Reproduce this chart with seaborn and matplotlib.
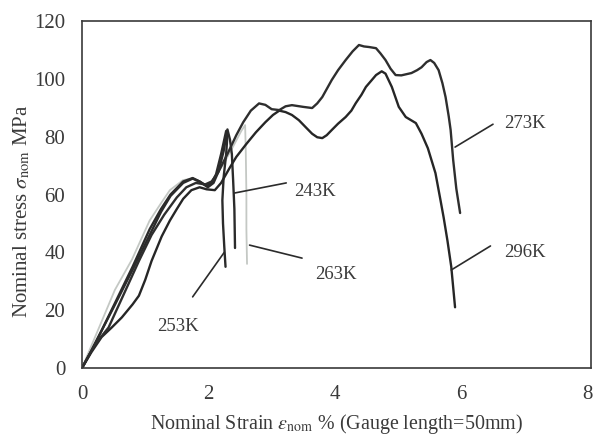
import numpy as np
import pandas as pd
import matplotlib
matplotlib.use("Agg")
import matplotlib.pyplot as plt
import seaborn as sns

# Nominal stress-strain curves (strain in %, stress in MPa) for each test temperature
strain_253 = [0, 0.15, 0.3, 0.5, 0.8, 1.07, 1.25, 1.4, 1.6, 1.75, 1.86, 1.97, 2.05, 2.12, 2.2, 2.25,
              2.28, 2.3, 2.28, 2.24, 2.22, 2.23, 2.25, 2.27]
stress_253 = [0, 6, 12.5, 21, 34, 46, 54, 59.5, 64, 65.5, 64.5, 63, 64, 67, 74, 79,
              82, 80.5, 74, 66, 58, 50, 42, 35]

strain_243 = [0, 0.15, 0.3, 0.5, 0.8, 1.07, 1.25, 1.4, 1.6, 1.75, 1.86, 1.99, 2.08, 2.16, 2.24, 2.3,
              2.34, 2.37, 2.39, 2.41, 2.42]
stress_243 = [0, 6, 12.5, 21.5, 35, 48, 55, 60, 64.5, 65.7, 64.5, 62.5, 64, 68, 75, 82.5,
              79, 74, 65, 55, 41.5]

strain_263 = [0, 0.27, 0.52, 0.79, 1.07, 1.25, 1.39, 1.6, 1.75, 1.9, 2.0, 2.1, 2.25, 2.4, 2.52, 2.58,
              2.59, 2.6, 2.6, 2.61]
stress_263 = [0, 14, 27, 37.5, 51, 57, 61.5, 65, 65.5, 63.5, 63, 66, 71, 77, 82, 84,
              75, 60, 48, 36]

strain_273 = [0, 0.2, 0.42, 0.65, 0.9, 1.1, 1.3, 1.5, 1.65, 1.8, 1.95, 2.05, 2.15, 2.3, 2.44, 2.55,
              2.67, 2.8, 2.9, 3.0, 3.12, 3.22, 3.32, 3.5, 3.64, 3.72, 3.8, 3.95, 4.05, 4.17, 4.28,
              4.38, 4.46, 4.54, 4.65, 4.72, 4.8, 4.88, 4.96, 5.05, 5.21, 5.3, 5.37, 5.45, 5.51,
              5.57, 5.64, 5.7, 5.75, 5.8, 5.83, 5.87, 5.92, 5.98]
stress_273 = [0, 8, 14, 25, 37, 46, 53, 59, 62.5, 64, 63.5, 64.5, 67.5, 74, 80.5, 85,
              89, 91.5, 91, 89.5, 89.2, 90.5, 90.9, 90.3, 89.9, 91.5, 93.7, 99.6, 103, 106.5, 109.5,
              111.7, 111.2, 111, 110.6, 108.8, 106.5, 103.5, 101.3, 101.2, 102, 103, 104, 105.8, 106.5,
              105.5, 103, 98.5, 93.7, 87, 82.3, 72, 62, 53.6]

strain_296 = [0, 0.15, 0.31, 0.47, 0.63, 0.8, 0.9, 1.0, 1.1, 1.26, 1.39, 1.5, 1.6, 1.73, 1.86, 1.97,
              2.1, 2.2, 2.33, 2.44, 2.6, 2.75, 2.9, 3.02, 3.12, 3.22, 3.32, 3.43, 3.55, 3.64, 3.72,
              3.8, 3.87, 3.95, 4.05, 4.17, 4.26, 4.33, 4.42, 4.49, 4.58, 4.65, 4.74, 4.8, 4.9, 5.01,
              5.12, 5.28, 5.37, 5.47, 5.59, 5.67, 5.72, 5.78, 5.84, 5.9]
stress_296 = [0, 5.5, 10.7, 14, 17.5, 22, 25, 30.5, 37, 45.5, 51, 55, 58.5, 61.5, 62.5, 61.8,
              61.5, 64, 69, 73, 77.5, 81.5, 85, 87.5, 89, 88.5, 87.5, 85.7, 83, 81, 79.8,
              79.5, 80.5, 82.3, 84.5, 86.8, 89, 91.6, 94.5, 97.2, 99.5, 101.3, 102.6, 101.8, 97.2, 90.3,
              86.8, 84.7, 81, 76, 67.4, 58, 52, 44, 35, 21]

temps = ["263K", "253K", "243K", "296K", "273K"]
curves = {
    "253K": (strain_253, stress_253),
    "243K": (strain_243, stress_243),
    "263K": (strain_263, stress_263),
    "273K": (strain_273, stress_273),
    "296K": (strain_296, stress_296),
}
line_colors = {"253K": "#2b2b2b", "243K": "#2b2b2b", "263K": "#c4c8c4",
               "273K": "#2e2e2e", "296K": "#262626"}

# Label text position and leader line end points (strain, stress)
label_pos = {"273K": (7.0, 84.5), "296K": (7.0, 40.0), "263K": (4.02, 32.2),
             "243K": (3.68, 61.0), "253K": (1.52, 14.2)}
leader_from = {"273K": (5.90, 76.4), "296K": (5.84, 33.9), "263K": (2.65, 42.5),
               "243K": (2.41, 60.5), "253K": (2.25, 40.0)}
leader_to = {"273K": (6.5, 84.3), "296K": (6.46, 42.2), "263K": (3.48, 38.0),
             "243K": (3.23, 64.0), "253K": (1.75, 24.6)}

x_ticks = [0, 2, 4, 6, 8]
y_ticks = [0, 20, 40, 60, 80, 100, 120]

frames = []
for t in temps:
    sx, sy = curves[t]
    frames.append(pd.DataFrame({"strain": sx, "stress": sy, "temp": t}))
df = pd.concat(frames, ignore_index=True)

sns.set_theme(style="white")
plt.rcParams["font.family"] = ["Liberation Serif", "DejaVu Serif"]
plt.rcParams["mathtext.fontset"] = "stix"

fig = plt.figure(figsize=(5.97, 4.36), dpi=100)
ax = fig.add_axes([82 / 597, 1 - 368 / 436, (591 - 82) / 597, (368 - 21) / 436])

for t in temps:
    sub = df[df["temp"] == t]
    sns.lineplot(data=sub, x="strain", y="stress", sort=False, estimator=None,
                 color=line_colors[t], lw=1.3 if t == "263K" else 1.7, ax=ax, legend=False)

for t in temps:
    (x0, y0), (x1, y1) = leader_from[t], leader_to[t]
    ax.plot([x0, x1], [y0, y1], color="#2b2b2b", lw=1.2)
    ax.text(*label_pos[t], t, fontsize=13.5, color="#3a3a3a", ha="center", va="center")

ax.set_xlim(0, 8.05)
ax.set_ylim(0, 120)
ax.set_xticks(x_ticks)
ax.set_yticks(y_ticks)
ax.tick_params(direction="in", length=3, width=0.8, color="#777777",
               labelsize=15, labelcolor="#3a3a3a", pad=12)
for s in ax.spines.values():
    s.set_visible(True)
    s.set_color("#3a3a3a")
    s.set_linewidth(1.2)

ax.set_xlabel(r"Nominal Strain $\varepsilon_{\rm nom}$ % (Gauge length=50mm)",
              fontsize=14.4, color="#3a3a3a")
ax.set_ylabel(r"Nominal stress $\sigma_{\rm nom}$ MPa", fontsize=15, color="#3a3a3a")
ax.xaxis.label.set_va("center")
ax.yaxis.label.set_va("center")
ax.xaxis.set_label_coords(0.5, (368 - 424) / 347)
ax.yaxis.set_label_coords((22 - 82) / 509, (368 - 211) / 347)

fig.savefig("out.png", dpi=100, facecolor="white")
